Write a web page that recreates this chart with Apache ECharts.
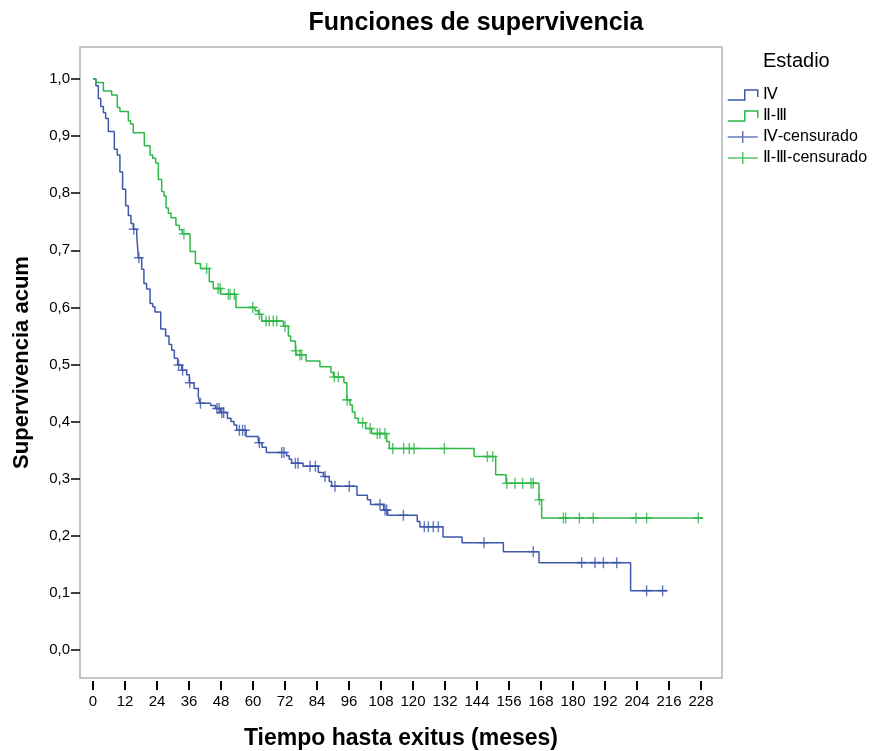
<!DOCTYPE html>
<html>
<head>
<meta charset="utf-8">
<script src="https://cdn.jsdelivr.net/npm/echarts@6/dist/echarts.min.js"></script>
<style>
  html, body { margin: 0; padding: 0; background: #fff; }
  #chart { width: 872px; height: 751px; }
</style>
</head>
<body>
<div id="chart"></div>
<script>
// Kaplan-Meier steps: [tiempo (meses), supervivencia tras la caida]
const ivSteps = [
  [0, 1.0], [1.1, 0.988], [2.0, 0.966], [2.9, 0.952], [3.9, 0.941], [4.75, 0.931],
  [5.75, 0.908], [8.0, 0.877], [9.1, 0.867], [10.1, 0.837], [11.1, 0.807], [12.25, 0.778],
  [13.25, 0.761], [14.25, 0.747], [15.1, 0.737], [16.4, 0.727], [17.0, 0.687], [18.25, 0.667],
  [19.1, 0.642], [20.1, 0.632], [21.4, 0.607], [22.4, 0.601], [23.25, 0.592], [25.4, 0.562],
  [27.25, 0.550], [28.5, 0.535], [29.5, 0.525], [30.5, 0.511], [31.75, 0.499], [33.25, 0.490],
  [35.1, 0.482], [36.1, 0.468], [37.9, 0.458], [39.5, 0.444], [40.1, 0.432], [44.1, 0.428],
  [46.0, 0.423], [47.8, 0.416], [50.4, 0.406], [51.75, 0.400], [52.9, 0.394], [53.9, 0.385],
  [57.4, 0.374], [62.0, 0.363], [63.4, 0.355], [65.0, 0.346], [72.6, 0.340], [73.6, 0.334],
  [74.5, 0.327], [78.8, 0.322], [84.5, 0.311], [86.4, 0.304], [88.6, 0.295], [89.5, 0.287],
  [99.0, 0.271], [102.9, 0.263], [104.1, 0.255], [109.0, 0.245], [110.5, 0.236], [121.6, 0.225],
  [122.6, 0.216], [131.25, 0.198], [138.4, 0.188], [153.9, 0.172], [167.25, 0.153],
  [201.6, 0.104], [215.1, 0.104]
];
const ivCensored = [
  15.3, 17.2, 32.1, 33.6, 36.3, 40.3, 46.5, 47.3, 48.3, 49.0, 54.9, 56.1, 57.0, 62.4,
  70.75, 71.6, 75.9, 76.9, 81.4, 83.4, 87.0, 90.75, 96.1, 107.6, 109.5, 110.1, 116.4,
  124.25, 125.75, 127.6, 129.5, 146.6, 165.1, 183.25, 188.25, 191.4, 196.4, 207.6, 213.6
];

const iiiSteps = [
  [0, 1.0], [1.1, 0.994], [3.9, 0.979], [7.0, 0.972], [9.1, 0.950], [10.1, 0.943],
  [13.25, 0.927], [14.1, 0.921], [15.1, 0.906], [19.25, 0.883], [21.4, 0.867], [22.4, 0.861],
  [23.5, 0.853], [24.5, 0.824], [25.75, 0.803], [26.6, 0.795], [27.4, 0.774], [28.25, 0.765],
  [29.25, 0.757], [31.1, 0.744], [32.4, 0.736], [33.5, 0.729], [36.4, 0.698], [38.4, 0.677],
  [40.3, 0.668], [43.6, 0.645], [45.1, 0.633], [47.9, 0.623], [53.6, 0.600], [60.75, 0.594],
  [62.0, 0.588], [63.25, 0.576], [71.4, 0.567], [73.25, 0.550], [74.1, 0.541], [75.9, 0.524],
  [76.4, 0.517], [79.9, 0.506], [85.1, 0.496], [89.25, 0.486], [90.2, 0.478], [94.1, 0.468],
  [95.2, 0.438], [96.4, 0.429], [97.25, 0.417], [98.25, 0.406], [99.5, 0.398], [102.25, 0.388],
  [104.5, 0.379], [110.1, 0.365], [111.1, 0.353], [142.9, 0.339], [151.0, 0.307],
  [154.9, 0.292], [167.25, 0.263], [168.25, 0.231], [228.6, 0.231]
];
const iiiCensored = [
  34.1, 42.6, 46.9, 47.7, 50.75, 51.4, 53.0, 59.9, 62.4, 64.9, 66.1, 67.6, 68.9, 72.0,
  76.1, 77.6, 78.25, 90.5, 92.0, 95.3, 101.1, 103.9, 106.6, 107.6, 109.5, 112.4, 116.5,
  118.6, 120.4, 131.75, 147.9, 149.9, 155.2, 158.25, 161.1, 164.25, 165.1, 167.4, 176.4,
  177.25, 182.4, 187.6, 203.6, 207.6, 227.0
];

const xTicks = [0, 12, 24, 36, 48, 60, 72, 84, 96, 108, 120, 132, 144, 156, 168, 180, 192, 204, 216, 228];
const yTicks = [0, 0.1, 0.2, 0.3, 0.4, 0.5, 0.6, 0.7, 0.8, 0.9, 1.0];

const seriesNames = ['Ⅳ', 'Ⅱ-Ⅲ', 'Ⅳ-censurado', 'Ⅱ-Ⅲ-censurado'];
const blue = '#3e58ac';
const green = '#2eb848';
const font = 'Liberation Sans, Arial, sans-serif';

// valor de la curva en el instante de la censura
function survAt(steps, t) {
  let v = steps[0][1];
  for (const s of steps) {
    if (s[0] <= t) v = s[1];
  }
  return v;
}
const ivMarks = ivCensored.map(t => [t, survAt(ivSteps, t)]);
const iiiMarks = iiiCensored.map(t => [t, survAt(iiiSteps, t)]);

const stepIcon = 'path://M0,11 L17,11 L17,1 L30,1 L30,8';
const plusIcon = 'path://M0,6 L30,6 M15,0 L15,12';
const plusMark = 'path://M0,5 L10,5 M5,0 L5,10';

const chart = echarts.init(document.getElementById('chart'));

chart.setOption({
  animation: false,
  title: [
    {
      text: 'Funciones de supervivencia',
      left: 476, top: 11, textAlign: 'center', padding: 0,
      textStyle: {fontFamily: font, fontSize: 25, fontWeight: 'bold', color: '#000'}
    },
    {
      text: 'Estadio',
      left: 763, top: 51, padding: 0,
      textStyle: {fontFamily: font, fontSize: 20, fontWeight: 'normal', color: '#000'}
    }
  ],
  legend: {
    orient: 'vertical',
    left: 727, top: 87, padding: 0,
    itemWidth: 30, itemHeight: 12, itemGap: 5,
    textStyle: {fontFamily: font, fontSize: 16, color: '#000'},
    data: [
      {name: seriesNames[0], icon: stepIcon, itemStyle: {color: 'rgba(0,0,0,0)', borderColor: blue, borderWidth: 1.5}},
      {name: seriesNames[1], icon: stepIcon, itemStyle: {color: 'rgba(0,0,0,0)', borderColor: green, borderWidth: 1.5}},
      {name: seriesNames[2], icon: plusIcon, itemStyle: {color: 'rgba(0,0,0,0)', borderColor: blue, borderWidth: 1.5}},
      {name: seriesNames[3], icon: plusIcon, itemStyle: {color: 'rgba(0,0,0,0)', borderColor: green, borderWidth: 1.5}}
    ]
  },
  grid: {
    left: 80, right: 150, top: 47, bottom: 73,
    outerBoundsMode: 'none', containLabel: false,
    show: true, borderColor: '#b4b4b4', borderWidth: 1.5
  },
  xAxis: {
    type: 'value',
    min: -4.875, max: 235.875,
    offset: 3,
    name: 'Tiempo hasta exitus (meses)',
    nameLocation: 'middle', nameGap: 46,
    nameTextStyle: {fontFamily: font, fontSize: 23, fontWeight: 'bold', color: '#000'},
    splitLine: {show: false},
    axisLine: {show: false, onZero: false},
    axisTick: {show: true, length: 9, customValues: xTicks, lineStyle: {color: '#000', width: 2}},
    axisLabel: {customValues: xTicks, margin: 13, fontFamily: font, fontSize: 15, color: '#000'}
  },
  yAxis: {
    type: 'value',
    min: -0.049, max: 1.056,
    name: 'Supervivencia acum',
    nameLocation: 'middle', nameGap: 47, nameRotate: 90,
    nameTextStyle: {fontFamily: font, fontSize: 22, fontWeight: 'bold', color: '#000'},
    splitLine: {show: false},
    axisLine: {show: false, onZero: false},
    axisTick: {show: true, length: 9, customValues: yTicks, lineStyle: {color: '#000', width: 1.5}},
    axisLabel: {
      customValues: yTicks, margin: 10, fontFamily: font, fontSize: 15, color: '#000',
      formatter: v => v.toFixed(1).replace('.', ',')
    }
  },
  series: [
    {
      name: seriesNames[0], type: 'line', step: 'end', data: ivSteps,
      showSymbol: false, color: blue, lineStyle: {color: blue, width: 1.5}, z: 2
    },
    {
      name: seriesNames[1], type: 'line', step: 'end', data: iiiSteps,
      showSymbol: false, color: green, lineStyle: {color: green, width: 1.5}, z: 2
    },
    {
      name: seriesNames[2], type: 'scatter', data: ivMarks,
      symbol: plusMark, symbolSize: [10, 11], color: blue,
      itemStyle: {color: 'rgba(0,0,0,0)', borderColor: blue, borderWidth: 1.5}, z: 3
    },
    {
      name: seriesNames[3], type: 'scatter', data: iiiMarks,
      symbol: plusMark, symbolSize: [10, 11], color: green,
      itemStyle: {color: 'rgba(0,0,0,0)', borderColor: green, borderWidth: 1.5}, z: 3
    }
  ]
});
</script>
</body>
</html>
